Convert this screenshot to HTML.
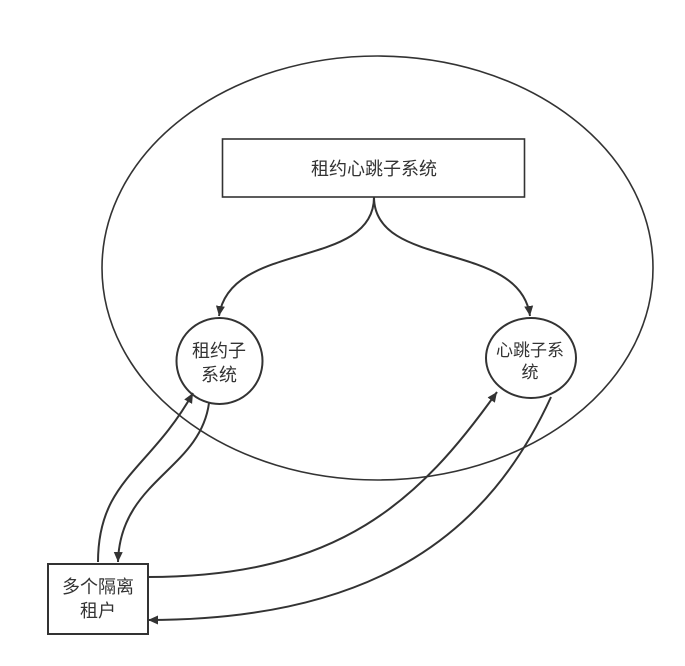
<!DOCTYPE html>
<html><head><meta charset="utf-8"><style>
body{margin:0;background:#fff}
svg{display:block}
text{font-family:"Liberation Sans","Noto Sans CJK SC",sans-serif;font-size:18px;fill:#333;text-anchor:middle}
</style></head><body>
<svg width="685" height="666" viewBox="0 0 685 666">
<defs>
<marker id="a" viewBox="0 0 10 10" refX="10" refY="5" markerWidth="10" markerHeight="10" orient="auto" markerUnits="userSpaceOnUse"><path d="M0,0.5L10,5L0,9.5z" fill="#333"/></marker></defs>
<g fill="none" stroke="#333" stroke-width="2">
<ellipse cx="377.5" cy="268" rx="275.5" ry="212" stroke-width="1.6"/>
<rect x="222.5" y="139" width="302" height="58" stroke-width="1.6"/>
<ellipse cx="219.5" cy="361" rx="43" ry="43"/>
<ellipse cx="531" cy="358" rx="45" ry="40"/>
<rect x="48" y="564" width="100" height="70"/>
<path d="M374,197 C374,270 230,240 219,316" marker-end="url(#a)"/>
<path d="M374,197 C374,270 520,240 530,316" marker-end="url(#a)"/>
<path d="M98,562 C98,480 150,470 193,393" marker-end="url(#a)"/>
<path d="M209,403 C200,470 120,480 118,562" marker-end="url(#a)"/>
<path d="M148,577 C340,577 420,500 497,392" marker-end="url(#a)"/>
<path d="M551,397 C490,530 380,620 148,620" marker-end="url(#a)"/>
</g>
<text x="374" y="175">租约心跳子系统</text>
<text x="219" y="357">租约子</text>
<text x="219" y="381">系统</text>
<text x="530" y="356" style="font-size:17px">心跳子系</text>
<text x="530" y="378" style="font-size:17px">统</text>
<text x="98" y="593">多个隔离</text>
<text x="98" y="617">租户</text>
</svg>
</body></html>
